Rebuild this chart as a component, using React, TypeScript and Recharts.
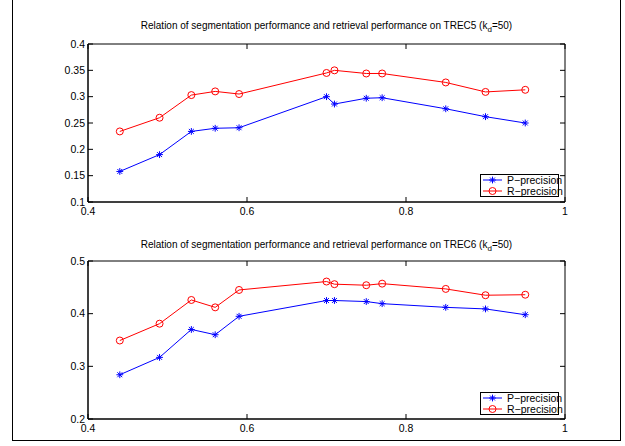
import React from 'react';
import { LineChart, Line, XAxis, YAxis, ReferenceArea, ReferenceLine } from 'recharts';

// x: segmentation performance
const segPerf = [0.44, 0.49, 0.53, 0.56, 0.59, 0.70, 0.71, 0.75, 0.77, 0.85, 0.90, 0.95];

// TREC5
const trec5P = [0.158, 0.190, 0.234, 0.240, 0.241, 0.300, 0.286, 0.297, 0.298, 0.277, 0.262, 0.250];
const trec5R = [0.234, 0.260, 0.303, 0.310, 0.305, 0.345, 0.350, 0.344, 0.344, 0.327, 0.309, 0.313];

// TREC6
const trec6P = [0.284, 0.317, 0.370, 0.360, 0.395, 0.425, 0.425, 0.423, 0.419, 0.412, 0.409, 0.398];
const trec6R = [0.349, 0.381, 0.426, 0.412, 0.445, 0.461, 0.456, 0.454, 0.457, 0.447, 0.435, 0.436];

const xTicks = [0.4, 0.6, 0.8, 1];
const yTicks5 = [0.1, 0.15, 0.2, 0.25, 0.3, 0.35, 0.4];
const yTicks6 = [0.2, 0.3, 0.4, 0.5];

const BLUE = '#0000ff';
const RED = '#ff0000';
const FONT = '"Liberation Sans", Arial, Helvetica, sans-serif';
const tickStyle = { fill: '#000', fontSize: 10.5, fontFamily: FONT };
const TICK_LEN = 5;

const buildRows = (p: number[], r: number[]) =>
    segPerf.map((x, i) => ({ x, p: p[i], r: r[i] }));

// MATLAB-style '*' marker
const StarDot = (props: any) => {
    const { cx, cy, index } = props;
    if (cx == null || cy == null) return <g key={`s-${index}`} />;
    const s = 3.4;
    const d = s * 0.72;
    return (
        <g key={`s-${index}`} stroke={BLUE} strokeWidth={1}>
            <line x1={cx - s} y1={cy} x2={cx + s} y2={cy} />
            <line x1={cx} y1={cy - s} x2={cx} y2={cy + s} />
            <line x1={cx - d} y1={cy - d} x2={cx + d} y2={cy + d} />
            <line x1={cx - d} y1={cy + d} x2={cx + d} y2={cy - d} />
        </g>
    );
};

const CircleDot = (props: any) => {
    const { cx, cy, index } = props;
    if (cx == null || cy == null) return <g key={`c-${index}`} />;
    return <circle key={`c-${index}`} cx={cx} cy={cy} r={3.5} fill="none" stroke={RED} strokeWidth={1} />;
};

// Reference line drawn only as the inward tick on the far side of the box (right / top)
const FarEndTick = (props: any) => {
    const { x1, y1, x2, y2 } = props;
    if (x1 == null || x2 == null) return <g />;
    if (y1 === y2) {
        const xr = Math.max(x1, x2);
        return <line x1={xr - TICK_LEN} y1={y1} x2={xr} y2={y1} stroke="#000" strokeWidth={1} />;
    }
    const yt = Math.min(y1, y2);
    return <line x1={x1} y1={yt} x2={x1} y2={yt + TICK_LEN} stroke="#000" strokeWidth={1} />;
};

const MatlabLegend = ({ left, top }: { left: number; top: number }) => (
    <svg style={{ position: 'absolute', left, top, overflow: 'visible' }} width={80} height={23}>
        <rect x={0.5} y={0.5} width={78} height={22} fill="#fff" stroke="#000" strokeWidth={1} />
        <line x1={3} y1={6} x2={22} y2={6} stroke={BLUE} strokeWidth={1} />
        <StarDot cx={12.5} cy={6} index={0} />
        <text x={27} y={6} dy="0.35em" fontSize={10.5} fontFamily={FONT} fill="#000">P−precision</text>
        <line x1={3} y1={17} x2={22} y2={17} stroke={RED} strokeWidth={1} />
        <CircleDot cx={12.5} cy={17} index={1} />
        <text x={27} y={17} dy="0.35em" fontSize={10.5} fontFamily={FONT} fill="#000">R−precision</text>
    </svg>
);

interface PanelProps {
    top: number;
    height: number;
    margin: { top: number; right: number; bottom: number; left: number };
    p: number[];
    r: number[];
    yDomain: [number, number];
    yTicks: number[];
}

const Panel: React.FC<PanelProps> = ({ top, height, margin, p, r, yDomain, yTicks }) => (
    <div style={{ position: 'absolute', left: 0, top }}>
        <LineChart width={625} height={height} data={buildRows(p, r)} margin={margin}>
            <XAxis
                dataKey="x"
                type="number"
                domain={[0.4, 1]}
                ticks={xTicks}
                height={20}
                stroke="#000"
                tickSize={-TICK_LEN}
                tickMargin={11}
                tick={tickStyle}
                tickFormatter={(v) => String(v)}
            />
            <YAxis
                type="number"
                domain={yDomain}
                ticks={yTicks}
                width={40}
                stroke="#000"
                tickSize={-TICK_LEN}
                tickMargin={8}
                tick={tickStyle}
                tickFormatter={(v) => String(v)}
            />
            <ReferenceArea
                x1={0.4}
                x2={1}
                y1={yDomain[0]}
                y2={yDomain[1]}
                fill="none"
                stroke="#000"
                strokeWidth={1}
                ifOverflow="visible"
            />
            {yTicks.map((t) => (
                <ReferenceLine key={`ry-${t}`} y={t} shape={FarEndTick} ifOverflow="visible" />
            ))}
            {xTicks.map((t) => (
                <ReferenceLine key={`rx-${t}`} x={t} shape={FarEndTick} ifOverflow="visible" />
            ))}
            <Line
                dataKey="p"
                type="linear"
                stroke={BLUE}
                strokeWidth={1}
                dot={StarDot}
                activeDot={false}
                isAnimationActive={false}
            />
            <Line
                dataKey="r"
                type="linear"
                stroke={RED}
                strokeWidth={1}
                dot={CircleDot}
                activeDot={false}
                isAnimationActive={false}
            />
        </LineChart>
    </div>
);

const Title = ({ top, set }: { top: number; set: string }) => (
    <div
        style={{
            position: 'absolute',
            left: 88,
            width: 477,
            top,
            textAlign: 'center',
            fontFamily: FONT,
            fontSize: 10,
            lineHeight: '12px',
            color: '#000',
            whiteSpace: 'nowrap',
        }}
    >
        Relation of segmentation performance and retrieval performance on {set} (k
        <sub style={{ fontSize: 8, verticalAlign: '-3px' }}>d</sub>=50)
    </div>
);

const App: React.FC = () => (
    <div style={{ position: 'absolute', left: 0, top: 0, width: 625, height: 446, background: '#fff' }}>
        {/* outer figure frame */}
        <div
            style={{
                position: 'absolute',
                left: 12,
                top: -2,
                width: 609,
                height: 443,
                border: '1.5px solid #000',
                boxSizing: 'border-box',
            }}
        />
        <Title top={20} set="TREC5" />
        <Panel
            top={0}
            height={225}
            margin={{ top: 44, right: 60, bottom: 3, left: 48 }}
            p={trec5P}
            r={trec5R}
            yDomain={[0.1, 0.4]}
            yTicks={yTicks5}
        />
        <MatlabLegend left={480} top={174} />

        <Title top={239} set="TREC6" />
        <Panel
            top={225}
            height={221}
            margin={{ top: 36, right: 60, bottom: 7, left: 48 }}
            p={trec6P}
            r={trec6R}
            yDomain={[0.2, 0.5]}
            yTicks={yTicks6}
        />
        <MatlabLegend left={480} top={392} />
    </div>
);

export default App;
